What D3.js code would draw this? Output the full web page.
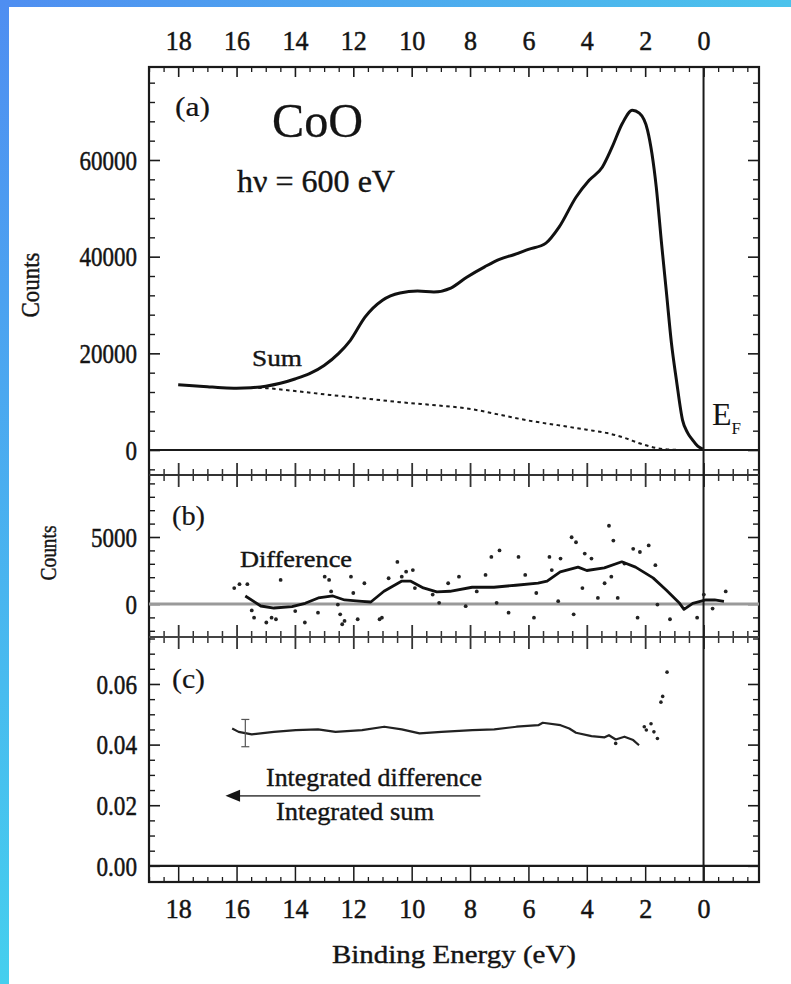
<!DOCTYPE html>
<html>
<head>
<meta charset="utf-8">
<script src="https://cdn.jsdelivr.net/npm/d3@7"></script>
<style>
  html, body { margin: 0; padding: 0; background: #ffffff; }
  svg { display: block; }
</style>
</head>
<body>
<svg id="chart" width="791" height="984" font-family="Liberation Serif"></svg>
<script>
// ---- data -------------------------------------------------------------
// (a) summed valence-band spectrum, binding energy (eV) vs counts
const sumEnergy = [18.0, 17.5, 17.0, 16.5, 16.0, 15.5, 15.0, 14.5, 14.0, 13.5, 13.0, 12.5, 12.1, 11.6, 11.0,
  10.4, 9.8, 9.24, 8.66, 8.1, 7.5, 6.97, 6.5, 6.0, 5.4, 4.95, 4.37, 3.92, 3.47, 3.13, 2.78, 2.44, 2.2,
  1.92, 1.62, 1.44, 1.27, 1.1, 0.93, 0.72, 0.55, 0.38, 0.2, 0.03];
const sumCounts = [13500, 13300, 13100, 12900, 12800, 12900, 13200, 13800, 14700, 15800, 17500, 20000, 22700,
  27500, 31000, 32500, 32900, 32700, 33500, 35800, 37900, 39500, 40400, 41500, 42800, 46100, 52300, 55800,
  58500, 62700, 67600, 70300, 69700, 66200, 54400, 42800, 32500, 22100, 14500, 6200, 3600, 2100, 800, 200];

// (a) background under the spectrum
const bgEnergy = [15.5, 15.0, 14.0, 12.8, 11.5, 10.4, 9.07, 8.1, 6.9, 6.0, 5.0, 4.0, 3.3, 2.7, 2.2, 1.6, 1.0, 0.5, -0.8];
const bgCounts = [12900, 12800, 12200, 11400, 10600, 9900, 9200, 8600, 7200, 6100, 5150, 4200, 3500, 2500, 1400, 400, 50, 0, 0];

// (b) difference spectrum: smoothed trace and individual points
const diffLineEnergy = [15.7, 15.17, 14.72, 14.1, 13.65, 13.2, 12.7, 12.3, 11.7, 11.4, 10.95, 10.35, 10.03, 9.6,
  9.14, 8.69, 7.93, 7.18, 6.43, 5.67, 5.36, 4.91, 4.3, 4.0, 3.4, 2.8, 2.33, 1.73, 1.28, 0.82, 0.67, 0.37,
  -0.08, -0.38, -0.7];
const diffLineCounts = [600, -150, -300, -200, 50, 450, 600, 300, 200, 150, 950, 1700, 1700, 1200, 900, 950, 1250,
  1250, 1400, 1550, 1700, 2400, 2750, 2500, 2700, 3150, 2750, 1950, 1050, 50, -400, 50, 300, 300, 200];
const diffPointEnergy = [16.08, 15.9, 15.63, 15.48, 15.4, 14.98, 14.8, 14.65, 14.49, 13.99, 13.66, 13.21, 12.98,
  12.83, 12.76, 12.53, 12.45, 12.38, 12.3, 12.08, 12.0, 11.85, 11.62, 11.1, 11.02, 10.79, 10.49, 10.34, 10.19,
  9.96, 9.89, 9.28, 9.06, 8.75, 8.38, 8.15, 7.77, 7.47, 7.27, 6.99, 7.09, 6.68, 6.34, 6.11, 5.73, 5.81, 5.28,
  5.2, 4.98, 4.9, 4.52, 4.45, 4.37, 4.15, 4.07, 3.84, 3.62, 3.39, 3.24, 3.16, 3.09, 2.94, 2.71, 2.41, 2.26,
  2.18, 1.88, 1.65, 1.58, 1.15, 0.22, -0.01, -0.31, -0.76];
const diffPointCounts = [1190, 1480, 1480, -480, -1020, -1380, -1020, -1140, 1800, -530, -1380, -650, 2040, 1800,
  940, -40, -770, -1510, -1260, 2040, 820, -1140, 1550, -1140, -1020, 1920, 3140, 2040, 2410, 2530, 1190, 700,
  90, 1550, 2040, -160, 940, 2170, 3510, 4000, 90, -650, 3510, 2170, 820, -1020, 3510, 2530, 210, 3390, 4980,
  -770, 4610, 1190, 3760, 3390, 450, 1550, 5840, 2040, 4730, 450, 3020, 4120, -1020, 3880, 4370, 2900, -40,
  -1140, -1020, 700, -340, 940];

// (c) ratio of integrated difference to integrated sum
const ratioEnergy = [16.15, 15.93, 15.48, 14.72, 13.97, 13.21, 12.61, 11.7, 10.94, 10.34, 9.73, 8.98, 7.92, 7.17,
  6.41, 5.66, 5.51, 4.9, 4.6, 4.37, 3.84, 3.39, 3.24, 3.01, 2.71, 2.41, 2.21];
const ratioValues = [0.0453, 0.0442, 0.0434, 0.0442, 0.0448, 0.0450, 0.0442, 0.0448, 0.0459, 0.0450, 0.0437,
  0.0442, 0.0448, 0.0450, 0.0459, 0.0464, 0.0472, 0.0464, 0.0453, 0.0439, 0.0428, 0.0424, 0.0431, 0.0417,
  0.0426, 0.0415, 0.0398];
const ratioPointEnergy = [3.01, 2.03, 1.96, 1.80, 1.70, 1.58, 1.46, 1.40, 1.25];
const ratioPointValues = [0.0404, 0.0459, 0.0448, 0.0469, 0.0442, 0.0420, 0.0540, 0.0559, 0.0639];
const ratioErrorBar = { energy: 15.7, low: 0.0393, high: 0.0483 };

// tick labels
const energyTickLabels = [18, 16, 14, 12, 10, 8, 6, 4, 2, 0];
const countTickLabelsA = [0, 20000, 40000, 60000];
const countTickLabelsB = [0, 5000];
const ratioTickLabels = [0.00, 0.02, 0.04, 0.06];

// ---- layout -----------------------------------------------------------
const svg = d3.select("#chart");
const FONT = "Liberation Serif";
const frame = { left: 149, right: 759, top: 67, bottom: 882 };
const sepAB = 475, sepBC = 637;

const x = d3.scaleLinear().domain([19, -1.9]).range([frame.left, frame.right]);
const yA = d3.scaleLinear().domain([-5170, 79240]).range([sepAB, frame.top]);
const yB = d3.scaleLinear().domain([-2463, 9627]).range([sepBC, sepAB]);
const yC = d3.scaleLinear().domain([-0.00533, 0.0755]).range([frame.bottom, sepBC]);

// blue page border (top and left)
const defs = svg.append("defs");
const gTop = defs.append("linearGradient").attr("id", "borderTop").attr("x1", "0").attr("x2", "1").attr("y1", "0").attr("y2", "0");
gTop.append("stop").attr("offset", "0").attr("stop-color", "#4f8ef1");
gTop.append("stop").attr("offset", "1").attr("stop-color", "#4bc3ec");
const gLeft = defs.append("linearGradient").attr("id", "borderLeft").attr("x1", "0").attr("x2", "0").attr("y1", "0").attr("y2", "1");
gLeft.append("stop").attr("offset", "0").attr("stop-color", "#4f8ef1");
gLeft.append("stop").attr("offset", "1").attr("stop-color", "#45cfee");
svg.append("rect").attr("x", 0).attr("y", 0).attr("width", 791).attr("height", 984).attr("fill", "#ffffff");
svg.append("rect").attr("x", 0).attr("y", 0).attr("width", 791).attr("height", 7).attr("fill", "url(#borderTop)");
svg.append("rect").attr("x", 0).attr("y", 0).attr("width", 9).attr("height", 984).attr("fill", "url(#borderLeft)");

const ink = "#1a1a1a";
const textInk = "#141414";

// helper: make axis lines look like the frame ticks
function styleAxis(g, color, width) {
  g.select(".domain").remove();
  g.selectAll(".tick line").attr("stroke", color).attr("stroke-width", width);
  return g;
}

const majorE = d3.range(0, 19, 2);           // 0,2,...,18
const minorE = d3.range(-1.5, 19.01, 0.5).filter(v => Math.abs(v / 2 - Math.round(v / 2)) > 1e-6);

// ---- energy ticks on horizontal frame lines -----------------------------
// top frame: ticks pointing down
styleAxis(svg.append("g").attr("transform", `translate(0,${frame.top})`)
  .call(d3.axisTop(x).tickValues(majorE).tickSize(-10).tickFormat("")), ink, 1.6);
styleAxis(svg.append("g").attr("transform", `translate(0,${frame.top})`)
  .call(d3.axisTop(x).tickValues(minorE).tickSize(-5).tickFormat("")), ink, 1.3);

// separators between panels: ticks crossing the line
[sepAB, sepBC].forEach(yy => {
  const gMaj = styleAxis(svg.append("g").attr("transform", `translate(0,${yy})`)
    .call(d3.axisBottom(x).tickValues(majorE).tickSize(12).tickFormat("")), "#333", 1.8);
  gMaj.selectAll(".tick line").attr("y1", -12);
  const gMin = styleAxis(svg.append("g").attr("transform", `translate(0,${yy})`)
    .call(d3.axisBottom(x).tickValues(minorE).tickSize(6).tickFormat("")), "#333", 1.5);
  gMin.selectAll(".tick line").attr("y1", -6);
});

// bottom frame: ticks pointing up
styleAxis(svg.append("g").attr("transform", `translate(0,${frame.bottom})`)
  .call(d3.axisTop(x).tickValues(majorE).tickSize(16).tickFormat("")), ink, 1.5);
styleAxis(svg.append("g").attr("transform", `translate(0,${frame.bottom})`)
  .call(d3.axisTop(x).tickValues(minorE).tickSize(5).tickFormat("")), ink, 1.3);

// energy tick labels, top and bottom
function styleLabels(g, size, perChar) {
  g.attr("font-family", FONT);
  g.selectAll(".tick text")
    .attr("font-size", size)
    .attr("font-family", FONT)
    .attr("fill", textInk)
    .attr("stroke", textInk).attr("stroke-width", 0.5)
    .attr("textLength", function () { return this.textContent.length * perChar; })
    .attr("lengthAdjust", "spacingAndGlyphs");
}
const topLabels = svg.append("g").attr("transform", `translate(0,${frame.top})`)
  .call(d3.axisTop(x).tickValues(energyTickLabels).tickSize(0).tickPadding(17).tickFormat(d3.format("d")));
topLabels.select(".domain").remove();
styleLabels(topLabels, 28, 13);

const bottomLabels = svg.append("g").attr("transform", `translate(0,${frame.bottom})`)
  .call(d3.axisBottom(x).tickValues(energyTickLabels).tickSize(0).tickPadding(36).tickFormat(d3.format("d")));
bottomLabels.select(".domain").remove();
bottomLabels.selectAll(".tick text").attr("dy", "0");
styleLabels(bottomLabels, 27, 13);

// ---- vertical ticks on left/right frames ---------------------------------
function sideTicks(scale, major, minor) {
  [[frame.left, d3.axisRight], [frame.right, d3.axisLeft]].forEach(([xx, ax]) => {
    styleAxis(svg.append("g").attr("transform", `translate(${xx},0)`)
      .call(ax(scale).tickValues(major).tickSize(11).tickFormat("")), ink, 1.6);
    styleAxis(svg.append("g").attr("transform", `translate(${xx},0)`)
      .call(ax(scale).tickValues(minor).tickSize(6).tickFormat("")), ink, 1.4);
  });
}
sideTicks(yA, countTickLabelsA, d3.range(-4000, 77000, 4000).filter(v => v % 20000 !== 0));
sideTicks(yB, countTickLabelsB, d3.range(-2000, 9001, 1000).filter(v => v % 5000 !== 0));
sideTicks(yC, ratioTickLabels, d3.range(0, 0.0751, 0.005).filter(v => Math.abs(v / 0.02 - Math.round(v / 0.02)) > 1e-6));

function leftLabels(scale, values, fmt) {
  const g = svg.append("g").attr("transform", `translate(${frame.left},0)`)
    .call(d3.axisLeft(scale).tickValues(values).tickSize(0).tickPadding(12).tickFormat(fmt));
  g.select(".domain").remove();
  g.selectAll(".tick text").attr("dy", "0.34em");
  styleLabels(g, 27, 0);
  g.selectAll(".tick text").attr("textLength", function () {
    const s = this.textContent;
    return s.replace(".", "").length * 11.5 + (s.includes(".") ? 6 : 0);
  });
}
leftLabels(yA, countTickLabelsA, d3.format("d"));
leftLabels(yB, countTickLabelsB, d3.format("d"));
leftLabels(yC, ratioTickLabels, d3.format(".2f"));

// ---- frame, zero lines, Fermi level ------------------------------------
const lines = svg.append("g");
lines.append("rect")
  .attr("x", frame.left).attr("y", frame.top)
  .attr("width", frame.right - frame.left).attr("height", frame.bottom - frame.top)
  .attr("fill", "none").attr("stroke", ink).attr("stroke-width", 2.2);
lines.append("line").attr("x1", frame.left).attr("x2", frame.right)
  .attr("y1", sepAB).attr("y2", sepAB).attr("stroke", "#333").attr("stroke-width", 1.8);
lines.append("line").attr("x1", frame.left).attr("x2", frame.right)
  .attr("y1", sepBC).attr("y2", sepBC).attr("stroke", "#444").attr("stroke-width", 2.2);
lines.append("line").attr("x1", frame.left).attr("x2", frame.right)
  .attr("y1", yA(0)).attr("y2", yA(0)).attr("stroke", ink).attr("stroke-width", 2.2);
lines.append("line").attr("x1", frame.left).attr("x2", frame.right)
  .attr("y1", yB(0)).attr("y2", yB(0)).attr("stroke", "#9a9a9a").attr("stroke-width", 3);
lines.append("line").attr("x1", frame.left).attr("x2", frame.right)
  .attr("y1", yC(0)).attr("y2", yC(0)).attr("stroke", ink).attr("stroke-width", 2.2);
lines.append("line").attr("x1", x(0)).attr("x2", x(0))
  .attr("y1", frame.top).attr("y2", frame.bottom).attr("stroke", ink).attr("stroke-width", 2);

// ---- panel (a) -----------------------------------------------------------
const lineA = d3.line().x(d => x(d[0])).y(d => yA(d[1])).curve(d3.curveMonotoneX);
svg.append("path").datum(d3.zip(bgEnergy, bgCounts))
  .attr("d", lineA).attr("fill", "none").attr("stroke", "#1a1a1a")
  .attr("stroke-width", 2).attr("stroke-dasharray", "3.5,3.5");
svg.append("path").datum(d3.zip(sumEnergy, sumCounts))
  .attr("d", lineA).attr("fill", "none").attr("stroke", "#111")
  .attr("stroke-width", 3).attr("stroke-linejoin", "round");

// ---- panel (b) -----------------------------------------------------------
svg.append("g").selectAll("circle").data(d3.zip(diffPointEnergy, diffPointCounts)).join("circle")
  .attr("cx", d => x(d[0])).attr("cy", d => yB(d[1])).attr("r", 1.9).attr("fill", "#222");
svg.append("path").datum(d3.zip(diffLineEnergy, diffLineCounts))
  .attr("d", d3.line().x(d => x(d[0])).y(d => yB(d[1])))
  .attr("fill", "none").attr("stroke", "#111").attr("stroke-width", 2.8).attr("stroke-linejoin", "round");

// ---- panel (c) -----------------------------------------------------------
svg.append("path").datum(d3.zip(ratioEnergy, ratioValues))
  .attr("d", d3.line().x(d => x(d[0])).y(d => yC(d[1])))
  .attr("fill", "none").attr("stroke", "#222").attr("stroke-width", 2.2).attr("stroke-linejoin", "round");
svg.append("g").selectAll("circle").data(d3.zip(ratioPointEnergy, ratioPointValues)).join("circle")
  .attr("cx", d => x(d[0])).attr("cy", d => yC(d[1])).attr("r", 1.8).attr("fill", "#222");
const eb = svg.append("g").attr("stroke", "#555").attr("stroke-width", 1.2);
eb.append("line").attr("x1", x(ratioErrorBar.energy)).attr("x2", x(ratioErrorBar.energy))
  .attr("y1", yC(ratioErrorBar.low)).attr("y2", yC(ratioErrorBar.high));
[ratioErrorBar.low, ratioErrorBar.high].forEach(v => {
  eb.append("line").attr("x1", x(ratioErrorBar.energy) - 4).attr("x2", x(ratioErrorBar.energy) + 4)
    .attr("y1", yC(v)).attr("y2", yC(v));
});

// arrow with fraction label
const arrowY = yC(0.0231);
svg.append("line").attr("x1", x(15.9)).attr("x2", x(7.65)).attr("y1", arrowY).attr("y2", arrowY)
  .attr("stroke", "#555").attr("stroke-width", 1.6);
svg.append("path")
  .attr("d", `M${x(16.38)},${arrowY} L${x(15.88)},${arrowY - 6} L${x(15.88)},${arrowY + 6} Z`)
  .attr("fill", "#151515");

// ---- text annotations ----------------------------------------------------
function label(txt, xx, yy, size, len, opts = {}) {
  const t = svg.append("text").attr("x", xx).attr("y", yy)
    .attr("font-family", FONT).attr("font-size", size)
    .attr("fill", textInk).attr("stroke", textInk).attr("stroke-width", opts.sw ?? 0.4)
    .text(txt);
  if (len) t.attr("textLength", len).attr("lengthAdjust", "spacingAndGlyphs");
  if (opts.anchor) t.attr("text-anchor", opts.anchor);
  if (opts.transform) t.attr("transform", opts.transform);
  return t;
}
label("(a)", 175, 116, 27, 35, { sw: 0.2 });
label("CoO", 272, 137, 48, 91, { sw: 0.3 });
label("hν = 600 eV", 237, 192, 32, 158);
label("Sum", 252, 366, 24, 50);
const ef = svg.append("text").attr("x", 712).attr("y", 425).attr("font-size", 32)
  .attr("font-family", FONT).attr("fill", textInk);
ef.append("tspan").text("E");
ef.append("tspan").attr("font-size", 17).attr("dy", 9).text("F");

label("(b)", 172, 525, 27, 33, { sw: 0.2 });
label("Difference", 240, 567, 24, 112);

label("(c)", 172, 688, 27, 33, { sw: 0.2 });
label("Integrated difference", 266, 786, 26, 216);
label("Integrated sum", 276, 820, 26, 158);

label("Counts", 0, 0, 26, 65, { anchor: "middle", transform: "translate(39,285) rotate(-90)" });
label("Counts", 0, 0, 23, 55, { anchor: "middle", transform: "translate(56,553) rotate(-90)" });
label("Binding Energy (eV)", (frame.left + frame.right) / 2, 963, 26, 244, { anchor: "middle" });
</script>
</body>
</html>
